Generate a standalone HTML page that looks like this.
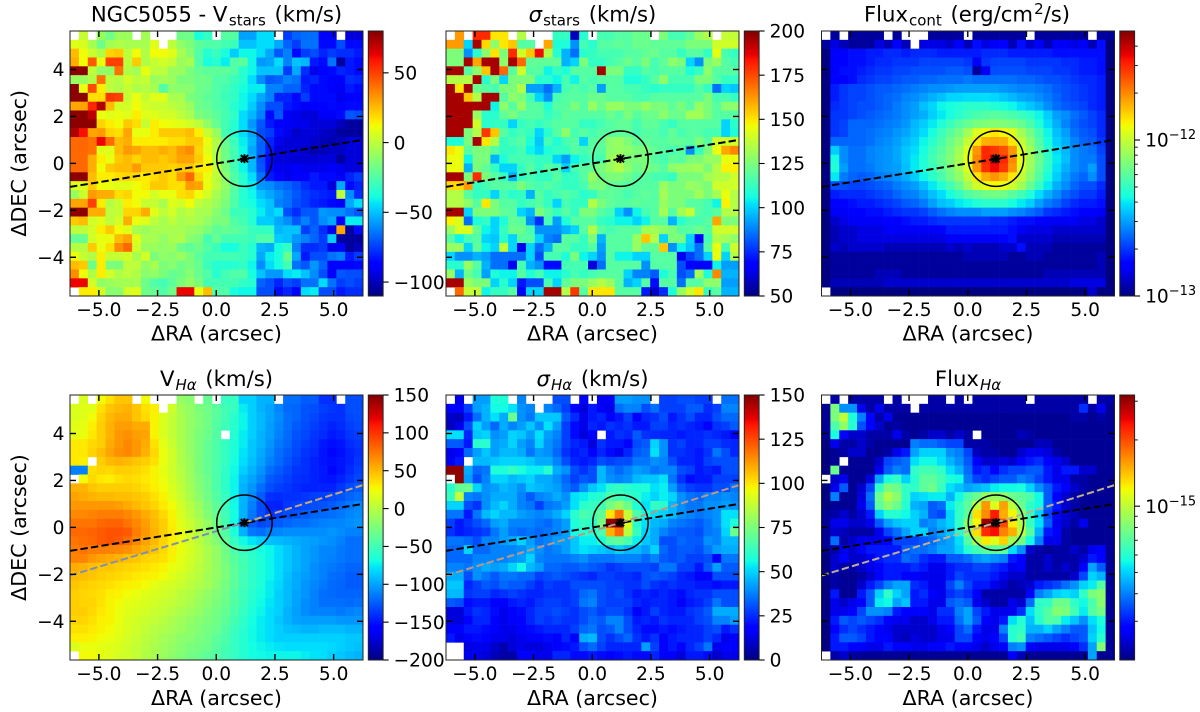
<!DOCTYPE html>
<html lang="en">
<head>
<meta charset="utf-8">
<title>NGC5055 maps</title>
<style>
html,body{margin:0;padding:0;background:#fff;width:1200px;height:712px;overflow:hidden}
svg{display:block;font-family:"DejaVu Sans","Liberation Sans",sans-serif;fill:#000}
.t{font-size:21.2px;text-anchor:middle}
.l{font-size:20.6px;text-anchor:middle}
</style>
</head>
<body>
<svg id="fig" xmlns="http://www.w3.org/2000/svg" width="1200" height="712" viewBox="0 0 1200 712">
<defs id="defs"></defs>
<text class="t" x="216.5" y="21.7">NGC5055 - V<tspan dy="4" dx="1.5" font-size="15">stars</tspan><tspan dy="-4" dx="2"> (km/s)</tspan></text>
<text class="t" x="592.5" y="21.7"><tspan font-style="italic">σ</tspan><tspan dy="4" dx="1" font-size="15">stars</tspan><tspan dy="-4" dx="2"> (km/s)</tspan></text>
<text class="t" x="967" y="21.7">Flux<tspan dy="4" dx="1" font-size="15">cont</tspan><tspan dy="-4" dx="2"> (erg/cm</tspan><tspan dy="-7.5" dx="1" font-size="15">2</tspan><tspan dy="7.5">/s)</tspan></text>
<text class="t" x="216.5" y="386">V<tspan dy="4" dx="1" font-size="15" font-style="italic">Hα</tspan><tspan dy="-4" dx="2"> (km/s)</tspan></text>
<text class="t" x="592.5" y="386"><tspan font-style="italic">σ</tspan><tspan dy="4" dx="1" font-size="15" font-style="italic">Hα</tspan><tspan dy="-4" dx="2"> (km/s)</tspan></text>
<text class="t" x="968" y="386">Flux<tspan dy="4" dx="1" font-size="15" font-style="italic">Hα</tspan></text>
<text class="l" x="216.5" y="340.7">ΔRA (arcsec)</text>
<text class="l" x="592.5" y="340.7">ΔRA (arcsec)</text>
<text class="l" x="968" y="340.7">ΔRA (arcsec)</text>
<text class="l" x="216.5" y="705">ΔRA (arcsec)</text>
<text class="l" x="592.5" y="705">ΔRA (arcsec)</text>
<text class="l" x="968" y="705">ΔRA (arcsec)</text>
<text class="l" transform="translate(26,163.3) rotate(-90)">ΔDEC (arcsec)</text>
<text class="l" transform="translate(26,527.5) rotate(-90)">ΔDEC (arcsec)</text>
</svg>
<script>
const N = null;
const xTickValues = [-5, -2.5, 0, 2.5, 5];
const yTickValues = [-4, -2, 0, 2, 4];
const xDomain = [-6.23, 6.25];
const yDomain = [-5.65, 5.64];
const galaxyCenter = [1.2, 0.2];
const circleRadius = 1.18;
const stellarAxisX = [-6.23, 6.25];
const stellarAxisY = [-1.0, 1.0];
const gasAxisX = [-6.23, 1.2, 6.25];
const gasAxisY = [-2.05, 0.2, 1.8];

const vStarsTicks = [50, 0, -50, -100];
const sigmaStarsTicks = [200, 175, 150, 125, 100, 75, 50];
const vGasTicks = [150, 100, 50, 0, -50, -100, -150, -200];
const sigmaGasTicks = [150, 125, 100, 75, 50, 25, 0];
const fluxContMajorExp = [-13, -12];
const fluxContMinor = [2e-13, 3e-13, 4e-13, 5e-13, 6e-13, 7e-13, 8e-13, 9e-13, 2e-12, 3e-12, 4e-12];
const fluxGasMajorExp = [-15];
const fluxGasMinor = [3e-16, 4e-16, 5e-16, 6e-16, 7e-16, 8e-16, 9e-16, 2e-15, 3e-15];

/* km/s */
const vStarsCells = [
[N,2,N,-8,-18,-8,-8,N,-6,N,N,N,-18,-18,-38,-32,N,-24,-24,-56,-56,-45,-45,N,-75,-68,-66,-66,-88,-88,N,-95,-95],
[8,6,-5,-18,-6,-3,-5,-5,-5,8,N,0,-10,-15,-22,-25,-25,-28,-30,-50,-50,-45,-45,-55,-68,-75,-65,-65,-85,-85,-72,-85,-85],
[25,12,3,-3,20,22,0,12,-3,12,12,8,-5,-12,-25,-35,-30,-38,-48,-40,-40,-45,-55,-70,-62,-85,-75,-72,-80,-75,-78,-78,-82],
[28,12,45,10,50,50,0,22,-3,2,5,2,-8,-5,-25,-38,-35,-42,-25,-22,-40,-58,-56,-45,-62,-50,-52,-82,-85,-65,-105,-82,-85],
[78,78,0,-10,-10,40,-3,-6,10,0,0,-8,-8,-15,-20,-22,-22,-22,-25,-35,-40,-50,-50,-50,-75,-55,-78,-92,-88,-85,-80,-82,-85],
[-8,-8,-3,40,0,-2,5,0,2,-8,-6,-8,-15,-15,-18,-18,-25,-25,-30,-35,-45,-60,-70,-68,-62,-65,-82,-80,-85,-88,-88,-78,-80],
[78,10,48,15,0,-3,2,-3,-2,-5,-25,-10,-12,-12,-18,-20,-25,-28,-32,-38,-42,-42,-62,-62,-68,-68,-80,-85,-85,-88,-90,-82,-85],
[78,78,18,18,52,50,2,10,2,8,8,-5,-5,-15,-18,-22,-25,-30,-32,-40,-45,-55,-62,-80,-80,-85,-75,-85,-85,-85,-92,-88,-88],
[30,30,55,72,25,5,5,12,5,3,3,0,-3,-8,-18,-20,-25,-28,-35,-40,-48,-60,-72,-72,-82,-85,-90,-88,-88,-85,-88,-85,-85],
[78,78,70,10,8,10,8,15,8,8,5,5,0,-5,-15,-18,-22,-28,-32,-45,-52,-62,-85,-70,-90,-92,-95,-95,-90,-90,-85,-70,-72],
[78,78,78,20,15,12,22,18,2,15,12,10,8,5,0,-10,-20,-28,-35,-45,-58,-70,-82,-90,-90,-92,-92,-95,-95,-95,-100,-105,-105],
[72,60,30,32,20,18,30,10,10,15,22,22,22,25,15,2,-8,-28,-35,-45,-55,-72,-75,-85,-92,-98,-95,-95,-98,-100,-105,-105,-105],
[42,42,40,62,42,25,28,15,15,15,15,18,18,22,22,10,-3,-20,-30,-42,-52,-68,-80,-92,-95,-95,-95,-98,-100,-102,-100,-95,-95],
[42,42,40,8,8,25,32,30,25,25,28,25,32,35,20,8,-3,-18,-28,-40,-55,-68,-82,-95,-95,-95,-98,-102,-100,-98,-98,-95,-95],
[42,42,28,15,10,22,25,20,25,25,22,25,30,30,22,12,-3,-18,-28,-40,-52,-72,-85,-95,-95,-96,-96,-96,-95,-95,-105,-95,-95],
[42,42,28,12,22,25,25,32,22,22,22,20,22,22,15,15,2,-15,-28,-40,-52,-70,-85,-92,-92,-90,-92,-92,-92,-90,-92,-95,-95],
[78,78,25,15,15,18,20,18,15,18,22,18,32,42,20,10,0,-12,-25,-35,-45,-65,-82,-88,-92,-88,-88,-82,-85,-85,-90,-80,-75],
[8,8,22,12,10,8,8,12,15,22,22,18,18,32,30,10,0,-10,-22,-35,-42,-58,-60,-65,-68,-72,-78,-82,-82,-95,-55,-85,-80],
[-8,3,32,28,28,18,20,12,12,5,10,10,18,20,12,5,-5,-12,-25,-35,-40,-50,-55,-60,-65,-70,-75,-78,-80,-82,0,-60,-78],
[30,30,50,15,-2,3,15,12,2,2,-5,8,5,12,0,-3,-8,-15,-25,-35,-38,-45,-50,-62,-65,-72,-75,-80,-82,-85,-88,-55,-45],
[78,78,28,28,0,2,20,20,28,8,0,5,-3,0,-5,-5,-12,-18,-30,-30,-35,-42,-50,-45,-72,-78,-70,-70,-58,-60,-60,-65,-70],
[22,25,5,8,0,5,28,10,8,0,-5,0,-5,-3,-5,-10,-15,-15,-25,-28,-35,-48,-48,-55,-60,-70,-62,-70,-60,-55,-88,-42,-42],
[0,0,5,15,22,12,8,-5,-8,-5,-5,-5,-5,-8,-10,-15,-22,-20,-22,-25,-30,-32,-32,-52,-50,-50,-75,-68,-78,-92,30,-105,-85],
[-20,-20,5,10,10,25,30,8,-5,-5,-10,-5,-3,-12,-15,-28,-20,-28,-28,-28,-30,-25,-25,-48,-50,-58,-62,-68,-75,-48,-105,-105,-105],
[-2,-2,22,10,18,35,42,5,-8,-8,-10,-8,-18,-22,-18,-25,-30,-38,-38,-30,-35,-52,-55,-38,-32,-62,-78,-78,-75,-92,-88,-105,-100],
[12,2,-3,15,2,2,5,-5,5,-15,-10,-12,-8,-15,-22,-28,-28,-28,-28,-30,-35,-55,-42,-38,-20,-55,-82,-72,-72,-65,-62,-82,-75],
[25,22,-18,15,-15,-15,0,0,-10,-5,-15,-12,-18,-15,-20,-30,-35,-35,-35,-32,-40,-60,-45,-38,-28,-65,-70,-58,-68,-88,-88,-88,-85],
[35,12,-3,15,5,-3,0,-3,-12,-10,-15,-20,-18,-12,-20,-25,-35,-28,-25,-25,-38,-50,-58,-58,-45,-42,-50,-60,-72,-90,-70,-72,-72],
[62,62,5,-10,-8,-6,-6,-5,-18,-25,-28,-22,-15,-10,-15,-28,-28,-28,-28,-32,-35,-68,-72,-80,-72,-75,-65,-65,-45,-65,-75,-72,-75],
[N,15,15,5,-12,-12,5,8,-18,-20,-25,-18,62,62,10,25,-25,-25,-38,-40,-40,-72,-72,-85,-80,-88,-45,-42,-72,-72,-82,-78,-78]
];

/* km/s */
const sigmaStarsCells = [
[N,162,N,180,180,150,150,N,135,N,N,N,112,112,58,110,N,115,115,118,118,122,122,N,125,115,115,120,130,135,N,138,138],
[162,162,100,195,152,128,150,155,118,118,N,160,108,108,90,115,110,118,118,120,118,122,122,120,120,120,120,125,125,125,140,140,140],
[125,125,90,110,128,150,125,180,140,155,185,135,110,95,85,110,112,115,115,115,118,118,120,122,118,118,112,118,118,112,145,115,112],
[125,125,195,160,195,195,128,195,170,120,120,120,120,95,100,125,112,112,115,118,122,118,125,115,120,128,125,100,90,125,130,118,115],
[195,195,118,128,155,195,170,118,140,118,118,105,112,108,118,118,118,195,125,125,112,112,118,115,118,118,118,108,112,128,118,118,118],
[135,135,135,195,110,125,100,125,125,125,110,110,105,115,105,118,115,118,118,118,108,108,112,118,128,115,115,115,125,125,118,112,112],
[195,150,195,122,118,115,125,125,135,92,92,85,95,115,118,115,118,92,118,118,115,115,112,110,112,112,112,112,118,112,85,100,98],
[195,195,155,135,195,195,118,128,125,115,100,90,115,118,118,118,122,122,118,118,118,115,115,118,118,118,118,118,118,125,115,115,112],
[195,195,195,195,195,105,128,118,130,118,118,108,118,118,125,118,130,122,130,130,125,125,130,125,125,120,125,118,130,125,118,128,128],
[195,195,195,130,110,110,120,125,118,118,118,112,115,120,118,118,118,118,122,118,125,118,122,122,128,122,122,132,132,125,118,118,118],
[195,195,195,140,110,112,112,100,112,115,112,115,118,118,118,112,112,115,118,120,120,115,120,120,115,112,118,118,118,118,118,100,110],
[195,195,125,135,178,155,118,112,115,112,100,110,118,128,115,118,115,118,118,120,120,115,118,118,115,120,115,118,118,115,115,100,108],
[108,108,125,195,150,135,112,115,118,108,98,115,108,115,118,100,118,120,128,130,125,120,120,118,118,120,120,118,125,118,140,140,140],
[150,145,118,125,125,118,112,112,115,105,100,108,112,112,118,115,118,118,128,130,128,125,125,120,118,115,118,90,112,125,145,160,165],
[145,145,105,125,125,95,108,115,115,115,112,112,100,92,105,112,115,115,130,135,125,125,125,118,115,120,118,125,125,130,130,145,145],
[145,145,95,125,120,112,100,100,112,118,112,118,115,100,115,118,120,125,130,135,128,122,125,122,118,128,130,130,132,125,135,148,148],
[195,195,125,180,125,118,112,95,112,115,112,112,118,112,112,118,130,122,125,125,122,118,118,115,115,112,125,125,125,132,135,135,140],
[152,152,162,112,115,118,118,118,125,118,115,118,115,112,112,115,125,125,120,120,118,118,118,118,130,125,125,130,128,125,140,140,140],
[135,135,118,112,112,100,115,110,112,95,118,112,115,118,115,110,112,120,120,118,115,118,120,118,132,125,125,125,132,125,132,145,135],
[135,135,128,118,150,125,118,118,112,115,118,112,100,115,112,112,135,125,120,118,118,120,118,118,130,125,125,118,118,115,105,148,135],
[195,195,100,125,125,125,120,118,100,95,125,118,112,118,112,125,125,118,115,100,90,105,115,118,132,118,132,138,118,115,118,135,135],
[148,142,85,108,112,100,108,120,118,90,75,115,92,108,118,118,118,112,110,105,105,100,105,118,118,95,110,115,115,118,160,125,125],
[130,142,142,120,105,100,112,122,122,115,90,90,90,95,100,118,135,118,115,118,118,118,132,132,128,125,118,118,122,118,140,140,140],
[118,105,115,118,100,98,110,100,118,118,100,88,85,118,118,112,125,95,118,118,118,130,155,135,100,125,125,100,68,115,135,132,128],
[130,130,100,120,105,100,138,100,65,100,85,95,118,118,112,112,118,92,118,118,118,130,120,120,155,90,105,98,85,118,145,115,140],
[100,90,90,95,92,85,85,85,85,100,80,115,115,108,125,105,100,90,118,105,105,100,100,118,118,118,65,78,85,100,145,100,135],
[110,110,130,118,95,85,85,65,115,95,90,70,70,115,115,115,62,85,118,118,118,118,90,118,118,118,80,68,68,68,105,92,92],
[130,95,122,115,92,108,105,105,118,108,115,105,105,110,115,112,115,118,118,118,100,88,88,82,108,115,80,85,132,108,165,95,95],
[195,195,130,125,125,100,110,100,72,80,80,115,100,120,125,125,130,135,130,118,95,100,118,70,118,118,85,118,118,128,128,92,92],
[N,170,138,138,105,112,112,118,68,100,100,195,195,135,178,118,150,150,150,118,118,118,72,60,75,108,130,140,150,112,118,95,95]
];

/* units of 1e-14 erg/cm2/s */
const fluxContCells = [
[N,11,N,11,11,11,11,N,11,N,N,N,11,11,11,11,N,11,11,11,11,11,11,N,11,11,11,11,11,11,N,11,11],
[11,14,12,11,11,11,14,12,16,12,N,14,14,14,13,16,12,17,14,15,16,12,17,13,15,12,15,15,14,15,12,17,10],
[10,16,16,17,17,18,18,19,19,18,19,19,19,18,18,18,18,18,19,19,19,18,18,18,18,18,17,17,17,17,17,17,10],
[10,16,16,17,17,18,19,19,20,20,20,21,21,21,21,21,20,15,20,21,21,21,21,20,20,20,20,19,19,18,18,17,10],
[10,16,17,17,18,19,20,20,21,21,22,22,22,22,23,23,22,11,15,22,22,22,22,21,21,21,20,20,19,18,18,17,10],
[10,16,16,17,19,20,21,21,22,23,23,24,24,25,25,25,26,25,25,25,25,25,24,24,23,22,22,21,20,19,19,18,10],
[10,18,20,21,21,22,23,23,24,25,26,27,28,28,29,30,30,30,30,30,29,28,27,27,26,25,23,22,21,20,19,18,10],
[10,18,20,21,21,22,23,24,25,27,28,30,32,34,37,37,38,38,38,37,35,33,31,30,28,26,24,22,21,20,19,18,10],
[10,19,20,21,22,22,23,24,26,28,30,34,37,42,44,46,48,48,48,46,44,42,38,35,32,28,25,23,22,21,19,18,10],
[10,20,20,21,22,23,24,25,26,28,30,32,36,40,44,48,52,56,58,60,58,56,52,48,42,36,30,28,25,23,21,19,10],
[10,20,21,24,24,24,25,26,27,29,33,36,40,46,52,58,64,70,72,74,72,70,64,56,46,38,32,27,24,22,21,19,10],
[10,20,21,24,24,25,26,27,29,31,34,38,44,52,60,68,85,112,125,135,125,112,85,68,54,42,34,30,25,23,22,19,10],
[10,24,24,24,24,25,27,28,30,33,36,42,48,56,66,76,100,135,170,175,170,135,100,76,58,44,36,32,27,24,23,20,10],
[10,36,28,25,25,27,28,29,31,35,38,44,52,60,70,84,112,190,300,280,250,190,112,84,62,48,38,33,28,26,25,21,10],
[10,44,28,25,25,27,28,29,31,35,40,46,54,62,72,88,118,200,300,420,300,200,118,85,66,50,40,34,28,26,26,22,10],
[10,46,30,25,25,26,28,29,30,34,40,46,52,60,70,84,112,190,290,340,280,190,112,82,62,48,38,32,28,26,30,22,10],
[10,40,26,24,23,24,26,27,29,32,36,42,48,56,66,78,100,135,170,190,170,135,100,76,58,44,36,30,26,24,28,22,10],
[10,22,22,21,21,22,23,24,26,28,30,34,40,46,54,64,84,105,118,125,118,105,84,64,50,40,32,28,24,22,22,19,10],
[10,18,19,19,19,20,21,22,24,26,27,30,34,38,44,50,58,62,66,68,66,60,54,46,38,32,28,24,22,20,20,18,10],
[10,16,16,17,18,18,19,20,21,23,24,26,30,34,36,40,42,46,48,48,48,44,40,36,30,26,24,21,19,18,18,17,10],
[10,15,15,16,16,17,17,18,19,20,20,21,23,25,27,28,28,28,30,30,30,28,27,25,23,20,19,18,17,16,16,15,10],
[10,13,14,15,15,15,15,16,16,17,18,18,19,20,20,20,20,20,20,19,19,18,17,17,16,15,15,15,15,14,14,13,10],
[10,12,13,13,14,14,14,15,15,15,15,15,15,16,18,18,18,18,18,18,18,17,15,14,14,14,13,13,13,13,13,13,10],
[10,12,13,13,14,14,14,14,14,14,14,14,14,14,15,15,15,15,15,15,16,17,13,13,13,13,12,12,12,12,12,12,10],
[10,13,12,13,13,13,13,12,12,12,12,12,12,12,13,12,13,12,12,12,13,13,17,12,12,12,11,11,11,11,11,11,10],
[10,11,11,11,11,11,11,11,11,11,11,11,11,11,11,11,12,12,12,12,12,11,11,12,12,11,11,11,11,11,11,12,10],
[10,11,11,11,11,11,11,11,11,11,11,11,11,11,11,11,11,11,11,11,11,11,11,11,11,11,11,11,11,11,11,12,10],
[10,11,11,11,11,11,12,12,12,11,11,11,11,11,11,11,11,11,11,11,11,11,11,11,11,12,12,12,12,12,12,12,10],
[10,12,12,12,12,12,12,13,13,13,13,13,13,13,13,13,13,13,13,13,13,13,13,13,13,13,13,13,14,14,14,14,10],
[N,10,10,10,10,10,10,10,10,10,10,10,10,10,10,10,10,10,10,10,10,10,10,10,10,10,10,10,10,10,13,10,10]
];

/* km/s */
const vGasCells = [
[N,15,N,25,35,45,45,N,25,N,N,N,-15,-20,N,-35,N,-55,-55,-85,-85,-95,-95,N,-118,-118,-125,-125,-140,-140,N,-130,-130],
[15,18,18,35,45,50,52,45,35,30,N,10,-8,-15,-25,-30,-40,-50,-55,-75,-85,-95,-100,-110,-120,-122,-128,-130,-135,-138,-140,-130,-130],
[15,18,25,40,50,55,55,45,38,28,15,5,-5,-15,-22,-30,-40,-50,-60,-72,-85,-92,-100,-108,-118,-122,-128,-132,-138,-140,-140,-132,-130],
[18,20,30,42,52,60,60,55,55,28,15,5,-5,-15,-22,-30,-42,-52,-60,-72,-85,-92,-102,-110,-118,-125,-130,-135,-140,-145,-142,-135,-132],
[20,22,32,42,52,62,65,60,58,28,15,5,-5,-15,-25,-32,-42,N,-62,-75,-85,-95,-102,-112,-120,-128,-132,-138,-142,-148,-145,-138,-135],
[32,32,38,42,55,62,68,62,55,35,20,8,-5,-15,-25,-35,-45,-55,-65,-75,-88,-95,-105,-115,-122,-130,-135,-140,-148,-152,-150,-142,-138],
[32,32,40,48,58,65,68,62,52,38,22,10,-3,-15,-25,-35,-45,-55,-65,-78,-88,-98,-108,-118,-125,-132,-138,-142,-150,-155,-152,-145,-140],
[32,30,N,42,50,52,50,45,42,35,22,10,-3,-12,-25,-35,-45,-55,-68,-80,-90,-100,-112,-120,-128,-135,-140,-145,-150,-152,-150,-145,-138],
[-112,-112,35,40,38,42,42,40,35,28,20,10,0,-12,-25,-35,-45,-58,-70,-85,-95,-105,-118,-125,-132,-138,-140,-145,-148,-155,-150,-142,-135],
[N,25,38,32,30,35,38,36,32,28,22,12,2,-10,-22,-32,-45,-58,-72,-92,-100,-110,-125,-130,-135,-140,-142,-145,-148,-150,-145,-138,-132],
[52,52,45,42,42,42,42,40,35,30,25,15,5,-8,-20,-32,-45,-58,-72,-95,-105,-118,-130,-135,-138,-142,-145,-145,-145,-145,-138,-130,-125],
[58,55,52,50,50,48,48,45,42,35,28,18,8,-5,-18,-30,-42,-55,-72,-95,-108,-125,-140,-142,-140,-140,-138,-135,-135,-132,-128,-122,-118],
[62,62,62,62,62,60,55,50,45,40,32,25,12,0,-12,-25,-38,-52,-70,-95,-112,-130,-145,-145,-138,-135,-132,-130,-128,-125,-120,-115,-110],
[68,68,70,72,72,72,68,62,55,48,38,28,15,3,-8,-22,-35,-50,-68,-95,-115,-130,-140,-135,-130,-128,-125,-122,-120,-118,-115,-110,-108],
[75,75,75,80,82,82,75,68,60,50,42,30,18,8,-3,-15,-30,-48,-70,-105,-125,-132,-128,-125,-122,-118,-118,-115,-112,-110,-110,-108,-105],
[80,80,82,85,88,88,85,72,62,52,42,32,22,10,0,-12,-28,-42,-65,-95,-115,-118,-112,-110,-108,-108,-108,-108,-108,-105,-108,-112,-112],
[75,78,80,85,88,85,78,68,58,50,40,30,22,12,2,-10,-22,-38,-55,-70,-78,-85,-90,-92,-95,-98,-100,-102,-105,-108,-112,-118,-118],
[72,75,72,72,70,68,65,58,52,45,38,30,22,14,5,-5,-15,-30,-45,-55,-60,-68,-72,-80,-88,-95,-100,-105,-110,-110,-115,-118,-118],
[70,70,62,58,55,52,48,45,40,38,35,28,20,12,5,-5,-15,-28,-40,-50,-58,-65,-72,-80,-88,-95,-100,-105,-110,-112,-115,-118,-118],
[55,52,48,45,45,42,40,38,35,32,28,22,18,10,2,-5,-15,-25,-38,-48,-58,-65,-72,-80,-88,-95,-100,-108,-112,-115,-118,-122,-122],
[50,48,45,42,40,38,35,32,30,28,25,18,12,5,0,-8,-15,-25,-38,-50,-58,-65,-72,-80,-90,-98,-102,-108,-112,-118,-120,-125,-125],
[45,42,40,38,35,32,30,28,25,20,15,12,8,2,-3,-8,-18,-28,-38,-50,-58,-65,-75,-82,-92,-98,-105,-110,-115,-120,-122,-125,-125],
[42,40,38,35,30,28,25,22,18,15,12,8,2,-2,-8,-15,-22,-30,-42,-52,-60,-68,-75,-85,-92,-100,-105,-112,-118,-120,-122,-122,-122],
[42,40,40,35,28,25,20,18,15,12,8,5,0,-5,-12,-18,-25,-32,-42,-52,-62,-70,-78,-85,-92,-100,-108,-112,-118,-118,-118,-120,-118],
[42,42,38,32,28,22,18,15,12,8,5,0,-5,-10,-15,-22,-28,-35,-45,-55,-65,-72,-80,-85,-95,-102,-108,-112,-112,-112,-115,-112,-110],
[40,40,35,30,28,22,15,12,8,5,0,-5,-10,-15,-20,-25,-30,-38,-48,-58,-68,-75,-80,-88,-95,-100,-102,-102,-102,-102,-105,-105,-105],
[35,35,32,28,25,20,15,10,5,0,-3,-8,-12,-18,-22,-28,-32,-42,-52,-60,-70,-75,-80,-85,-90,-92,-95,-95,-92,-92,-92,-95,-95],
[30,30,28,25,22,18,12,8,2,-2,-8,-12,-18,-20,-25,-30,-38,-45,-55,-62,-70,-75,-80,-85,-85,-85,-85,-85,-85,-85,-85,-88,-88],
[15,22,22,20,18,15,10,5,0,-5,-10,-15,-20,-25,-28,-32,-40,-48,-55,-62,-68,-72,-75,-78,-80,-80,-80,-80,-80,-82,-85,-88,-90],
[N,25,25,20,18,12,10,5,-2,-5,-12,-18,-22,-28,-32,-38,-42,-50,-55,-62,-68,-70,-72,-72,-72,-72,-75,-78,-80,-85,-88,-92,-95]
];

/* km/s */
const sigmaGasCells = [
[N,14,N,42,42,58,58,N,38,N,N,N,30,30,N,18,N,16,16,42,42,40,40,N,28,28,30,30,28,28,N,35,35],
[18,18,28,42,45,56,56,52,40,38,N,38,34,28,18,12,22,16,14,35,38,38,30,35,28,28,28,32,32,25,28,38,38],
[10,8,22,35,45,52,44,72,40,36,48,48,48,32,25,14,22,24,18,22,28,18,24,26,30,22,26,30,24,24,30,34,34],
[8,14,30,50,42,34,44,38,42,48,40,52,42,28,20,14,24,22,26,24,26,22,22,28,28,24,26,24,22,18,26,28,32],
[52,52,24,48,50,40,42,50,48,42,52,42,38,28,20,12,18,N,22,26,24,32,26,25,24,24,22,24,24,26,24,22,18],
[32,32,22,60,60,42,44,50,42,38,50,40,36,28,24,22,12,26,22,22,18,30,32,50,40,26,28,24,24,28,28,25,24],
[14,18,34,42,48,42,46,46,44,36,42,40,34,26,22,24,18,24,20,14,24,32,34,52,40,26,26,24,22,26,36,30,24],
[15,22,N,46,46,48,50,50,50,48,44,44,38,30,24,22,24,30,28,30,30,36,36,40,38,30,24,24,22,28,30,30,30],
[148,148,44,34,36,58,58,62,58,54,54,60,44,40,30,26,30,46,38,34,38,42,40,36,38,38,30,28,22,24,22,30,30],
[N,148,42,30,38,50,50,46,48,50,44,44,40,34,28,32,30,46,40,38,40,46,48,48,52,36,26,20,22,22,28,28,28],
[60,70,72,50,40,42,46,44,40,48,46,44,42,36,32,40,48,52,60,62,60,58,58,52,54,42,32,28,26,26,30,30,36],
[62,88,38,36,40,44,44,44,38,32,38,40,44,40,52,54,58,60,66,64,62,60,54,50,54,50,40,36,34,38,38,40,38],
[50,50,30,26,40,46,50,44,38,36,28,36,38,42,52,60,62,64,74,80,72,58,52,62,60,46,40,36,36,40,40,42,40],
[36,36,22,36,46,50,46,46,42,40,38,40,44,50,60,66,64,70,100,118,88,66,56,52,50,46,40,38,36,38,40,52,52],
[28,22,26,30,34,42,44,38,38,38,36,34,38,42,58,62,60,74,148,148,92,60,52,46,44,38,36,34,32,36,40,52,58],
[26,22,24,26,28,36,42,36,34,36,34,36,38,42,56,60,58,66,108,120,86,62,50,44,38,34,32,32,30,36,38,50,72],
[36,36,34,30,38,38,42,44,50,42,36,38,42,42,48,54,54,58,68,70,66,54,48,44,30,30,34,32,32,40,38,46,46],
[34,34,50,34,34,38,38,38,40,44,40,36,38,42,48,52,50,48,46,50,46,46,42,50,34,30,32,32,30,36,42,44,44],
[34,34,34,38,38,38,38,40,42,50,38,36,36,36,38,40,36,36,36,38,38,38,34,38,32,30,32,28,28,30,18,36,36],
[38,38,36,40,44,42,44,50,56,46,42,34,34,32,32,34,32,30,26,28,30,30,30,28,36,36,28,28,22,32,42,32,32],
[44,44,30,40,36,32,36,36,34,34,28,30,32,30,28,26,24,28,28,26,26,24,30,32,30,28,24,22,16,18,30,30,30],
[48,48,24,28,32,30,34,32,32,28,24,28,26,26,30,30,30,30,28,28,26,26,30,26,24,26,24,24,22,22,20,22,22],
[46,46,26,28,28,24,26,28,26,24,24,26,26,26,28,34,36,30,28,30,26,22,24,22,24,22,20,24,26,26,30,30,30],
[32,30,20,22,22,18,18,22,24,22,26,28,28,26,28,36,38,30,28,28,28,24,22,24,24,22,16,22,24,28,36,30,30],
[12,12,22,26,24,20,14,18,20,24,28,28,30,28,26,30,32,28,30,30,26,16,22,28,24,22,22,26,28,32,44,44,44],
[12,12,18,24,24,18,14,16,18,24,28,26,28,26,26,30,34,32,38,38,30,22,24,22,26,24,24,24,28,30,38,38,42],
[18,18,22,22,20,18,14,14,18,20,22,24,24,24,28,34,36,30,32,38,30,24,20,20,22,20,22,24,24,28,30,22,26],
[22,14,18,20,18,14,14,12,14,16,18,20,18,24,18,44,46,30,26,30,34,26,22,26,18,22,24,24,24,28,24,14,18],
[N,N,12,14,14,10,6,12,14,12,12,14,18,20,22,30,34,28,24,24,24,24,42,28,16,22,18,24,28,36,14,18,18],
[N,N,14,14,12,8,5,5,16,18,14,14,24,24,20,20,22,20,18,20,22,20,20,24,16,18,12,22,22,20,10,14,14]
];

/* units of 1e-17 */
const fluxGasCells = [
[N,22,N,22,22,22,22,N,22,N,N,N,22,22,N,22,N,22,22,22,22,22,22,N,22,22,22,22,22,22,N,22,22],
[21,80,42,42,26,22,26,22,22,22,N,22,22,22,22,22,22,22,22,22,22,22,22,22,22,22,22,22,22,32,22,26,21],
[21,80,100,58,40,27,22,26,21,21,21,21,21,21,21,21,21,21,21,21,21,21,21,21,21,21,21,21,22,22,21,22,21],
[21,68,85,60,35,28,24,21,22,21,21,21,21,21,21,21,21,21,21,21,21,21,21,21,21,21,21,21,21,21,21,21,21],
[21,58,27,24,24,22,22,22,26,22,21,22,24,24,22,24,22,N,21,21,21,21,23,22,21,21,21,21,21,21,21,21,21],
[20,26,22,22,24,22,21,21,21,21,40,38,38,36,34,34,22,22,22,21,21,21,21,21,23,23,21,21,21,21,21,21,21],
[20,21,22,24,24,21,21,22,26,30,44,50,50,50,42,40,34,23,22,22,21,21,24,26,26,25,22,21,21,21,21,21,21],
[20,21,N,21,21,21,24,34,36,38,52,56,56,52,46,42,36,28,24,24,25,24,28,30,32,28,26,24,21,21,21,21,21],
[20,75,21,21,21,21,26,36,40,38,62,66,66,62,52,46,38,30,32,28,32,34,34,36,36,30,26,30,30,24,24,21,21],
[N,24,26,21,21,25,44,58,62,50,60,72,72,66,58,56,40,34,32,34,36,36,40,38,34,30,26,26,22,22,21,21,21],
[20,26,36,21,24,34,62,80,76,62,62,72,76,64,52,48,44,46,48,54,56,56,58,50,42,36,30,28,24,22,21,21,21],
[20,40,21,21,25,38,76,95,84,62,50,52,54,54,46,56,68,76,88,88,85,76,72,68,56,36,28,24,22,21,21,21,21],
[20,21,21,21,26,36,72,84,76,60,46,44,36,38,54,62,72,100,160,110,155,100,76,62,56,36,30,24,22,21,21,21,21],
[21,22,24,22,24,30,50,60,60,56,50,46,36,34,50,62,72,130,165,230,150,120,84,64,50,34,28,24,23,21,21,21,21],
[21,26,26,24,24,26,36,44,48,50,50,40,42,46,50,62,84,120,300,300,200,125,98,64,52,36,26,24,22,26,21,21,21],
[21,24,23,22,22,22,26,34,38,44,50,50,40,44,48,58,80,130,220,240,170,150,100,70,46,30,28,22,21,21,21,21,21],
[21,38,22,24,26,26,26,28,34,34,34,36,38,42,44,52,70,95,125,112,135,90,78,56,40,26,26,22,21,21,21,21,21],
[21,22,26,24,27,30,30,30,30,36,38,38,40,44,44,50,60,66,72,72,72,52,42,24,22,21,22,22,24,22,26,28,21],
[20,24,28,24,24,26,30,32,32,38,36,32,30,30,36,36,38,42,44,42,40,30,28,22,22,24,22,22,22,24,30,28,21],
[20,24,22,22,24,26,28,30,30,30,32,30,26,26,30,32,32,34,34,32,30,26,28,22,22,24,22,24,22,28,44,36,21],
[20,22,21,21,22,24,28,30,30,28,28,26,26,26,30,34,32,32,32,30,26,24,24,22,22,22,22,22,24,34,50,46,21],
[20,22,21,21,24,30,34,40,44,44,32,30,26,26,34,40,34,30,30,26,24,22,23,24,30,32,34,38,42,50,54,70,21],
[20,30,21,21,30,36,50,62,50,44,30,32,28,26,32,34,32,28,22,22,22,22,22,28,40,44,50,52,50,62,80,84,21],
[20,26,24,26,28,36,54,56,44,48,30,30,26,26,36,38,36,26,24,22,22,26,24,38,62,62,76,76,62,56,68,84,21],
[20,26,26,28,34,42,42,40,30,28,28,28,26,32,32,40,44,34,30,26,26,26,32,52,62,70,82,80,66,54,70,78,21],
[20,30,36,34,36,34,32,28,26,26,24,24,26,30,30,38,44,36,28,26,30,52,60,48,60,70,68,54,48,42,52,58,21],
[20,28,32,34,32,30,28,26,24,24,24,24,24,26,28,34,38,30,26,26,40,60,62,46,46,50,44,40,36,36,48,56,21],
[20,30,36,36,34,30,28,28,24,23,25,24,24,26,26,34,34,28,26,28,34,60,66,40,38,36,34,32,34,36,50,60,21],
[20,30,30,28,28,26,26,30,28,28,26,26,28,28,30,28,28,26,24,26,28,40,42,28,26,26,26,26,28,32,44,82,21],
[N,22,24,22,21,21,21,21,21,21,21,21,21,21,21,21,21,21,21,21,21,28,23,21,21,21,21,21,21,21,44,21,21]
];

const svgNS = 'http://www.w3.org/2000/svg';
const fig = document.getElementById('fig');
const defs = document.getElementById('defs');

function interp(points, f) {
  for (let i = 1; i < points.length; i++) {
    if (f <= points[i][0]) {
      const a = points[i - 1], b = points[i];
      return a[1] + (b[1] - a[1]) * (f - a[0]) / (b[0] - a[0]);
    }
  }
  return points[points.length - 1][1];
}
const jetR = [[0,0],[.35,0],[.66,1],[.89,1],[1,.5]];
const jetG = [[0,0],[.125,0],[.375,1],[.64,1],[.91,0],[1,0]];
const jetB = [[0,.5],[.11,1],[.34,1],[.65,0],[1,0]];
function jet(f) {
  f = Math.max(0, Math.min(1, f));
  const c = (p) => Math.round(255 * interp(p, f));
  return 'rgb(' + c(jetR) + ',' + c(jetG) + ',' + c(jetB) + ')';
}
function mk(tag, attrs, parent) {
  const el = document.createElementNS(svgNS, tag);
  for (const k in attrs) el.setAttribute(k, attrs[k]);
  parent.appendChild(el);
  return el;
}
function fmt(v) { return String(v).replace('-', '\u2212'); }

const gradId = 'jetGradient';
const grad = mk('linearGradient', { id: gradId, x1: 0, y1: 1, x2: 0, y2: 0 }, defs);
[0, .11, .125, .34, .35, .375, .64, .65, .66, .89, .91, 1].forEach(function (s) {
  mk('stop', { offset: s, 'stop-color': jet(s) }, grad);
});

function drawPanel(p) {
  const W = 293, H = 265;
  const xS = (v) => p.left + (v - xDomain[0]) / (xDomain[1] - xDomain[0]) * W;
  const yS = (v) => p.top + (yDomain[1] - v) / (yDomain[1] - yDomain[0]) * H;
  const g = mk('g', {}, fig);
  
  

  const clipId = p.name + '-clip';
  const clip = mk('clipPath', { id: clipId }, defs);
  mk('rect', { x: p.left, y: p.top, width: W, height: H }, clip);
  const clipG = mk('g', { 'clip-path': 'url(#' + clipId + ')' }, g);
  const imgG = mk('g', { style: 'filter:blur(.35px)' }, clipG);
  
  
  const rows = p.cells.length, cols = p.cells[0].length;
  const dx = (xDomain[1] - xDomain[0]) / cols, dy = (yDomain[1] - yDomain[0]) / rows;
  p.cells.forEach(function (row, j) {
    row.forEach(function (v, i) {
      if (v === null) return;
      const x0 = xS(xDomain[0] + i * dx), x1 = xS(xDomain[0] + (i + 1) * dx);
      const y0 = yS(yDomain[1] - j * dy), y1 = yS(yDomain[1] - (j + 1) * dy);
      const cell = mk('rect', { x: x0.toFixed(2), y: y0.toFixed(2), width: (x1 - x0 + .3).toFixed(2), height: (y1 - y0 + .3).toFixed(2), fill: jet(p.norm(v)) }, imgG);
      
      
    });
  });

  const line1 = mk('line', { x1: xS(stellarAxisX[0]), y1: yS(stellarAxisY[0]), x2: xS(stellarAxisX[1]), y2: yS(stellarAxisY[1]), stroke: '#000', 'stroke-width': 2, 'stroke-dasharray': '7.4 3.2' }, clipG);
  
  
  if (p.gasColors) {
    for (let s = 0; s < 2; s++) {
      const line2 = mk('line', { x1: xS(gasAxisX[s]), y1: yS(gasAxisY[s]), x2: xS(gasAxisX[s + 1]), y2: yS(gasAxisY[s + 1]), stroke: p.gasColors[s], 'stroke-width': 2, 'stroke-dasharray': '7.4 3.2' }, clipG);
      
      
    }
  }
  const ring = mk('circle', { cx: xS(galaxyCenter[0]), cy: yS(galaxyCenter[1]), r: circleRadius * W / (xDomain[1] - xDomain[0]), fill: 'none', stroke: '#000', 'stroke-width': 1.5 }, clipG);
  
  
  const cx = xS(galaxyCenter[0]), cy = yS(galaxyCenter[1]);
  const mark = mk('path', { d: 'M' + (cx - 3.6) + ' ' + (cy - 3.6) + 'L' + (cx + 3.6) + ' ' + (cy + 3.6) + 'M' + (cx + 3.6) + ' ' + (cy - 3.6) + 'L' + (cx - 3.6) + ' ' + (cy + 3.6) + 'M' + (cx - 4.4) + ' ' + cy + 'L' + (cx + 4.4) + ' ' + cy + 'M' + cx + ' ' + (cy - 4.4) + 'L' + cx + ' ' + (cy + 4.4), stroke: '#000', 'stroke-width': 2, fill: 'none' }, clipG);
  
  

  xTickValues.forEach(function (v) {
    [[p.top + H, p.top + H - 6], [p.top, p.top + 6]].forEach(function (e) {
      const t = mk('line', { x1: xS(v), x2: xS(v), y1: e[0], y2: e[1], stroke: '#000', 'stroke-width': 1.4 }, g);
      
      
    });
    const lab = mk('text', { x: xS(v), y: p.top + H + 20.2, 'text-anchor': 'middle', 'font-size': 18.6 }, g);
    lab.textContent = fmt(v.toFixed(1));
    
    
  });
  yTickValues.forEach(function (v) {
    [[p.left, p.left + 6], [p.left + W, p.left + W - 6]].forEach(function (e) {
      const t = mk('line', { y1: yS(v), y2: yS(v), x1: e[0], x2: e[1], stroke: '#000', 'stroke-width': 1.4 }, g);
      
      
    });
    if (p.showY) {
      const lab = mk('text', { x: p.left - 5.5, y: yS(v) + 6.7, 'text-anchor': 'end', 'font-size': 18.6 }, g);
      lab.textContent = fmt(v);
      
      
    }
  });
  const frame = mk('rect', { x: p.left, y: p.top, width: W, height: H, fill: 'none', stroke: '#222', 'stroke-width': 1 }, g);
  
  

  /* colorbar */
  const cbL = p.left + W + 5.3, cbW = 14.8;
  const cb = mk('rect', { x: cbL, y: p.top, width: cbW, height: H, fill: 'url(#' + gradId + ')', stroke: '#222', 'stroke-width': 1 }, g);
  
  
  const cbY = (v) => p.top + H - p.norm(v) * H;
  (p.cbTicks || []).forEach(function (v) {
    const t = mk('line', { x1: cbL + cbW, x2: cbL + cbW + 5.5, y1: cbY(v), y2: cbY(v), stroke: '#000', 'stroke-width': 1.1 }, g);
    
    
    const lab = mk('text', { x: cbL + cbW + 10.5, y: cbY(v) + 6.7, 'font-size': 18.6 }, g);
    lab.textContent = fmt(v);
    
    
  });
  (p.majorExp || []).forEach(function (e) {
    const y = p.top + H - (e - p.logMin) / (p.logMax - p.logMin) * H;
    const t = mk('line', { x1: cbL + cbW, x2: cbL + cbW + 5.5, y1: y, y2: y, stroke: '#000', 'stroke-width': 1.1 }, g);
    
    
    const lab = mk('text', { x: cbL + cbW + 10.5, y: y + 6.7, 'font-size': 18.6 }, g);
    
    
    const base = mk('tspan', {}, lab);
    base.textContent = '10';
    const sup = mk('tspan', { dy: -7.5, 'font-size': 13 }, lab);
    sup.textContent = fmt(e);
  });
  (p.minor || []).forEach(function (m) {
    const y = p.top + H - (Math.log10(m) - p.logMin) / (p.logMax - p.logMin) * H;
    const t = mk('line', { x1: cbL + cbW, x2: cbL + cbW + 3.2, y1: y, y2: y, stroke: '#000', 'stroke-width': .9 }, g);
    
    
  });
}
function linearNorm(a, b) { return (v) => (v - a) / (b - a); }

drawPanel({ name: 'v-stars', left: 70, top: 31, cells: vStarsCells, norm: linearNorm(-110, 80), cbTicks: vStarsTicks, showY: true });
drawPanel({ name: 'sigma-stars', left: 446, top: 31, cells: sigmaStarsCells, norm: linearNorm(50, 200), cbTicks: sigmaStarsTicks });
const contMin = -13, contMax = Math.log10(5e-12);
drawPanel({ name: 'flux-cont', left: 821.5, top: 31, cells: fluxContCells, norm: (v) => (Math.log10(v * 1e-14) - contMin) / (contMax - contMin), majorExp: fluxContMajorExp, minor: fluxContMinor, logMin: contMin, logMax: contMax });
drawPanel({ name: 'v-halpha', left: 70, top: 395, cells: vGasCells, norm: linearNorm(-200, 150), cbTicks: vGasTicks, showY: true, gasColors: ['#7f8fb0', '#c8a878'] });
drawPanel({ name: 'sigma-halpha', left: 446, top: 395, cells: sigmaGasCells, norm: linearNorm(0, 150), cbTicks: sigmaGasTicks, gasColors: ['#c09585', '#c09585'] });
const gasMin = Math.log10(2e-16), gasMax = Math.log10(3.2e-15);
drawPanel({ name: 'flux-halpha', left: 821.5, top: 395, cells: fluxGasCells, norm: (v) => (Math.log10(v * 1e-17) - gasMin) / (gasMax - gasMin), majorExp: fluxGasMajorExp, minor: fluxGasMinor, logMin: gasMin, logMax: gasMax, gasColors: ['#c0b090', '#c0b090'] });
</script>
</body>
</html>
